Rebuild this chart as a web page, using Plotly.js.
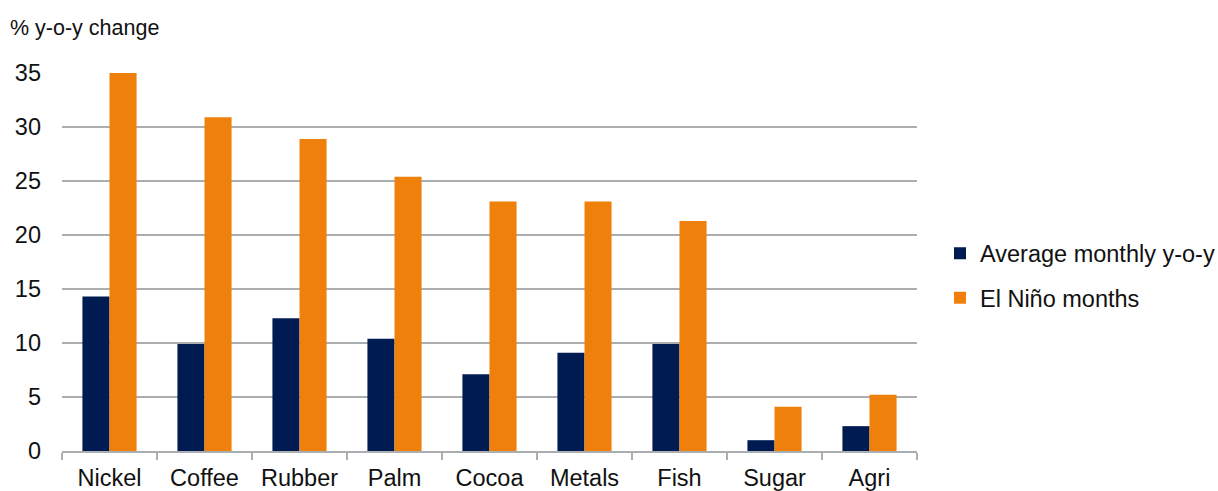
<!DOCTYPE html>
<html>
<head>
<meta charset="utf-8">
<script src="https://cdn.plot.ly/plotly-3.0.1.min.js"></script>
<style>
  html, body { margin: 0; padding: 0; background: #ffffff; }
  #chart { width: 1218px; height: 491px; }
</style>
</head>
<body>
<div id="chart"></div>
<script>
// Commodity price changes: average monthly y-o-y vs. El Niño months
const categories = ['Nickel', 'Coffee', 'Rubber', 'Palm', 'Cocoa', 'Metals', 'Fish', 'Sugar', 'Agri'];
const averageMonthly = [14.3, 9.9, 12.3, 10.4, 7.1, 9.1, 9.9, 1.0, 2.3];
const elNinoMonths = [35.0, 30.9, 28.9, 25.4, 23.1, 23.1, 21.3, 4.1, 5.2];
const seriesNames = ['Average monthly y-o-y', 'El Niño months'];
const yTicks = [0, 5, 10, 15, 20, 25, 30, 35];

const navy = '#001a52';
const orange = '#ef800b';
const gridGrey = '#abaeb1';
const fontFamily = '"Liberation Sans", Arial, sans-serif';

const traces = [
  {
    type: 'bar',
    name: seriesNames[0],
    x: categories,
    y: averageMonthly,
    marker: { color: navy, line: { width: 0 } },
    legendgroup: 'a',
    hoverinfo: 'x+y+name'
  },
  {
    type: 'bar',
    name: seriesNames[1],
    x: categories,
    y: elNinoMonths,
    marker: { color: orange, line: { width: 0 } },
    legendgroup: 'b',
    hoverinfo: 'x+y+name'
  }
];

const layout = {
  width: 1218,
  height: 491,
  margin: { l: 62, r: 301, t: 73, b: 40, pad: 0, autoexpand: false },
  paper_bgcolor: '#ffffff',
  plot_bgcolor: '#ffffff',
  font: { family: fontFamily, color: '#111111', size: 23 },
  barmode: 'group',
  bargap: 0.43,
  bargroupgap: 0,
  title: {
    text: '% y-o-y change',
    font: { family: fontFamily, size: 21.5, color: '#111111' },
    xref: 'container', yref: 'container',
    x: 10 / 1218, xanchor: 'left',
    y: 1 - 27 / 491, yanchor: 'middle'
  },
  xaxis: {
    type: 'category',
    showgrid: false,
    showline: true,
    linecolor: gridGrey,
    linewidth: 1.7,
    ticks: 'outside',
    tickson: 'boundaries',
    ticklen: 7,
    tickwidth: 1.5,
    tickcolor: gridGrey,
    tickfont: { family: fontFamily, size: 23.5, color: '#111111' },
    ticklabelstandoff: 5,
    fixedrange: true
  },
  yaxis: {
    range: [0, 35],
    tickvals: yTicks,
    ticktext: yTicks.map(String),
    showgrid: true,
    gridcolor: gridGrey,
    gridwidth: 1.7,
    zeroline: false,
    showline: false,
    ticks: '',
    tickfont: { family: fontFamily, size: 23.5, color: '#111111' },
    ticklabelstandoff: 20,
    fixedrange: true
  },
  showlegend: true,
  legend: {
    x: (940 - 62) / 855,
    xanchor: 'left',
    y: (451 - 276) / 378,
    yanchor: 'middle',
    traceorder: 'grouped',
    tracegroupgap: 11,
    bgcolor: 'rgba(0,0,0,0)',
    borderwidth: 0,
    font: { family: fontFamily, size: 23.5, color: '#111111' }
  }
};

Plotly.newPlot('chart', traces, layout, { displayModeBar: false, staticPlot: true });
</script>
</body>
</html>
